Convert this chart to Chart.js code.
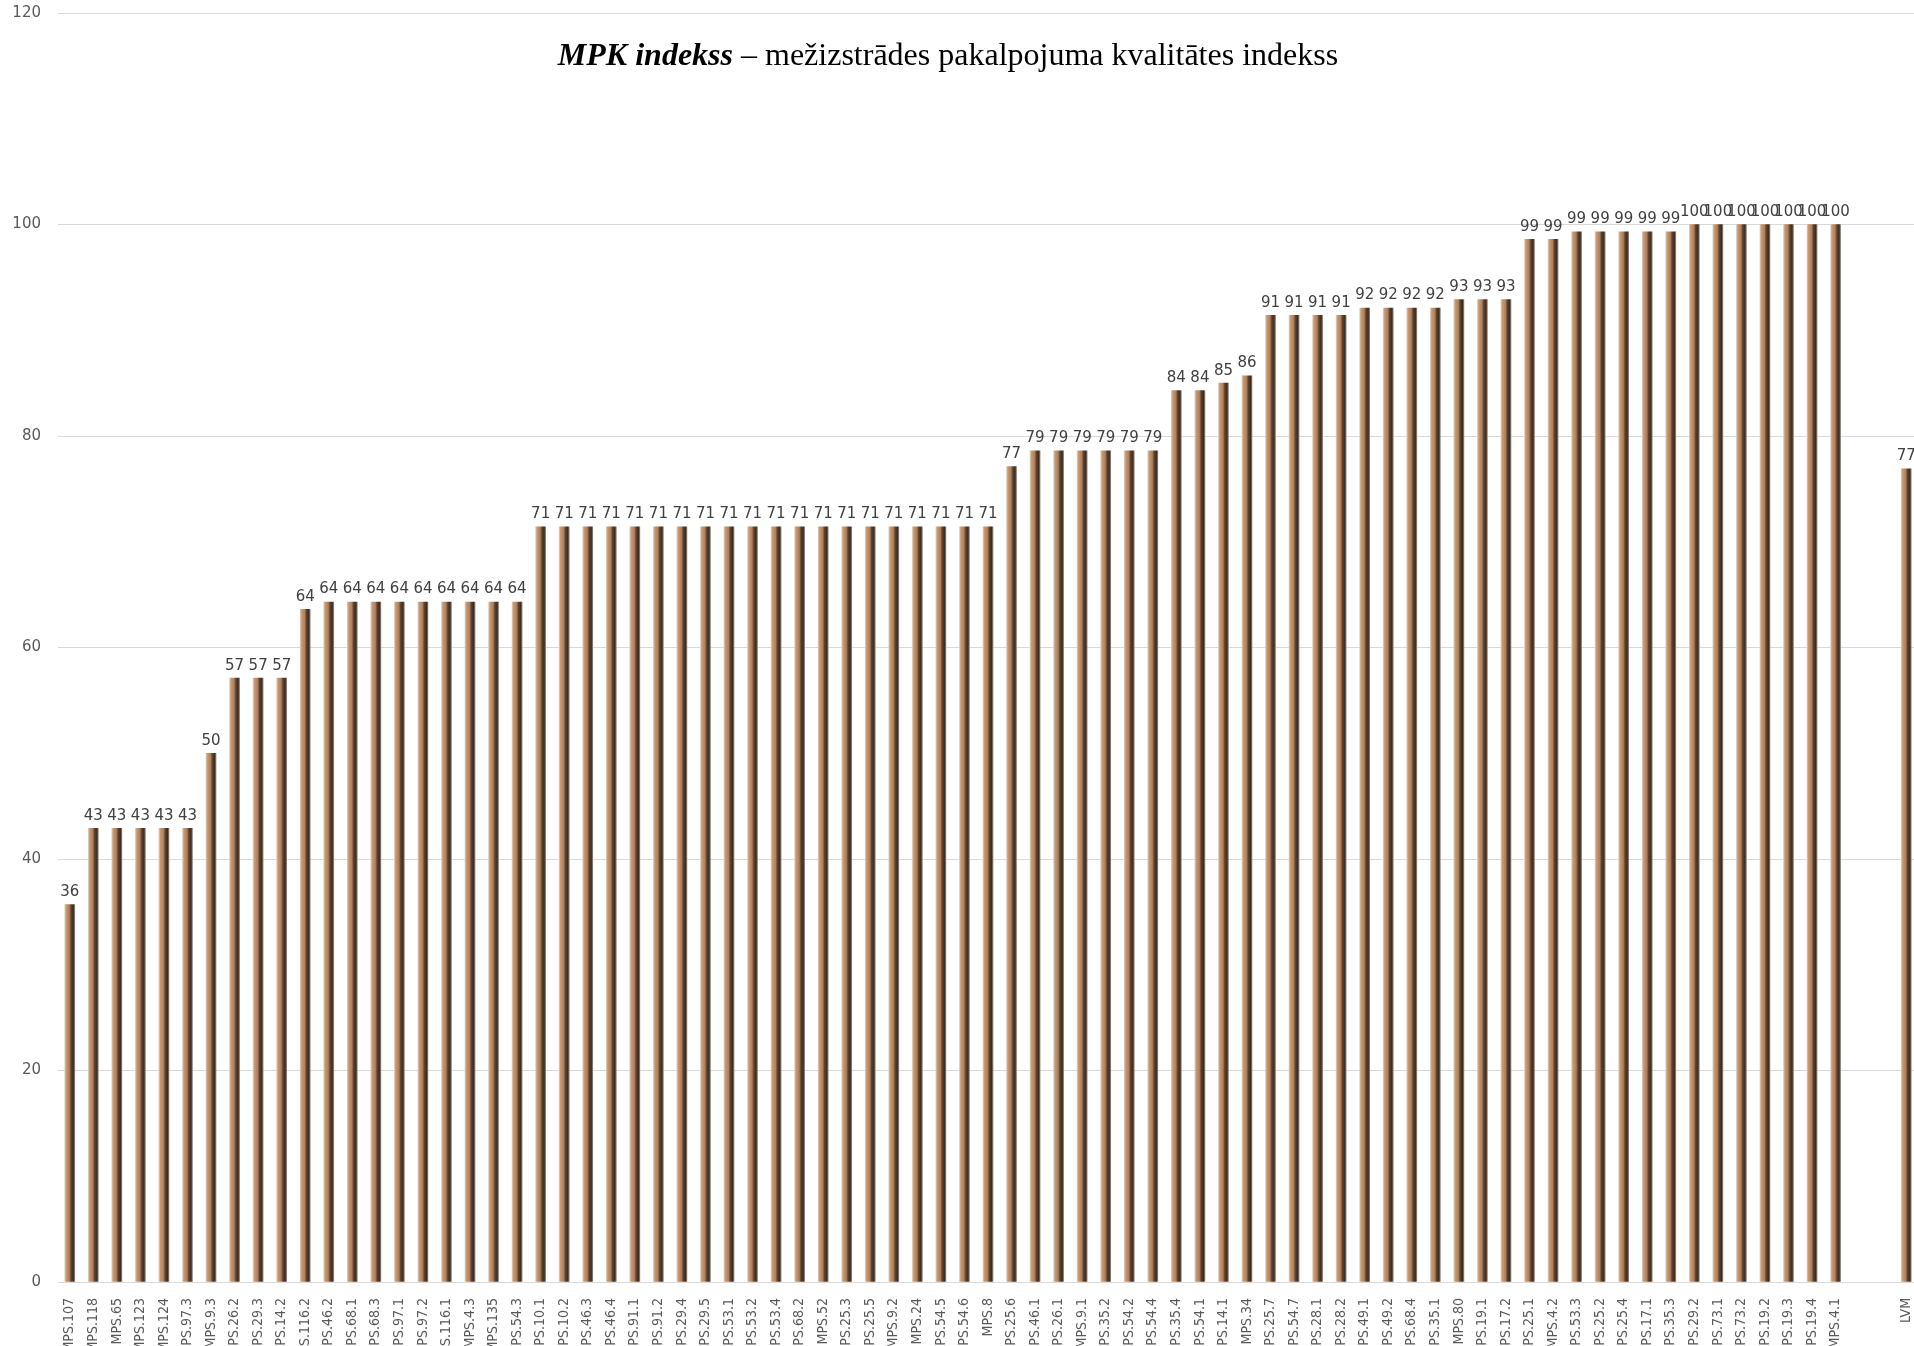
<!DOCTYPE html>
<html>
<head>
<meta charset="utf-8">
<script src="https://cdn.jsdelivr.net/npm/chart.js@4/dist/chart.umd.min.js"></script>
<style>
  html, body { margin: 0; padding: 0; background: #fff; overflow: hidden; }
  #wrap { position: relative; width: 1918px; height: 1346px; }
  #title {
    position: absolute; top: 36px; left: 948px; transform: translateX(-50%);
    font-family: "Liberation Serif", "DejaVu Serif", serif; font-size: 32px;
    color: #000; white-space: nowrap;
  }
  #title b { font-style: italic; }
</style>
</head>
<body>
<div id="wrap">
  <canvas id="MPK" width="1918" height="1346"></canvas>
  <div id="title"><b>MPK indekss</b> – mežizstrādes pakalpojuma kvalitātes indekss</div>
</div>
<script>
// categories (two empty slots before LVM)
var labels = [
  "MPS.107", "MPS.118", "MPS.65", "MPS.123", "MPS.124", "MPS.97.3", "MPS.9.3", "MPS.26.2", "MPS.29.3", "MPS.14.2",
  "MPS.116.2", "MPS.46.2", "MPS.68.1", "MPS.68.3", "MPS.97.1", "MPS.97.2", "MPS.116.1", "MPS.4.3", "MPS.135", "MPS.54.3",
  "MPS.10.1", "MPS.10.2", "MPS.46.3", "MPS.46.4", "MPS.91.1", "MPS.91.2", "MPS.29.4", "MPS.29.5", "MPS.53.1", "MPS.53.2",
  "MPS.53.4", "MPS.68.2", "MPS.52", "MPS.25.3", "MPS.25.5", "MPS.9.2", "MPS.24", "MPS.54.5", "MPS.54.6", "MPS.8",
  "MPS.25.6", "MPS.46.1", "MPS.26.1", "MPS.9.1", "MPS.35.2", "MPS.54.2", "MPS.54.4", "MPS.35.4", "MPS.54.1", "MPS.14.1",
  "MPS.34", "MPS.25.7", "MPS.54.7", "MPS.28.1", "MPS.28.2", "MPS.49.1", "MPS.49.2", "MPS.68.4", "MPS.35.1", "MPS.80",
  "MPS.19.1", "MPS.17.2", "MPS.25.1", "MPS.4.2", "MPS.53.3", "MPS.25.2", "MPS.25.4", "MPS.17.1", "MPS.35.3", "MPS.29.2",
  "MPS.73.1", "MPS.73.2", "MPS.19.2", "MPS.19.3", "MPS.19.4", "MPS.4.1", "", "", "LVM"
];

// index values
var values = [
  35.7, 42.9, 42.9, 42.9, 42.9, 42.9, 50, 57.1, 57.1, 57.1,
  63.6, 64.3, 64.3, 64.3, 64.3, 64.3, 64.3, 64.3, 64.3, 64.3,
  71.4, 71.4, 71.4, 71.4, 71.4, 71.4, 71.4, 71.4, 71.4, 71.4,
  71.4, 71.4, 71.4, 71.4, 71.4, 71.4, 71.4, 71.4, 71.4, 71.4,
  77.1, 78.6, 78.6, 78.6, 78.6, 78.6, 78.6, 84.3, 84.3, 85.0,
  85.7, 91.4, 91.4, 91.4, 91.4, 92.1, 92.1, 92.1, 92.1, 92.9,
  92.9, 92.9, 98.6, 98.6, 99.3, 99.3, 99.3, 99.3, 99.3, 100,
  100, 100, 100, 100, 100, 100, null, null, 76.9
];

var yTicks = [0, 20, 40, 60, 80, 100, 120];

var barWidth = 10;

// cylinder-like shading for each bar
function barFill(c) {
    var chart = c.chart;
    var xs = chart.scales.x;
    if (!xs || c.dataIndex == null || !chart.chartArea) return "#b07d57";
    var cx = xs.getPixelForValue(c.dataIndex);
    var g = chart.ctx.createLinearGradient(cx - barWidth / 2, 0, cx + barWidth / 2, 0);
    g.addColorStop(0, "#d6ccc2");
    g.addColorStop(0.14, "#c9996f");
    g.addColorStop(0.45, "#b27f58");
    g.addColorStop(0.62, "#5e4532");
    g.addColorStop(0.86, "#3b2b1f");
    g.addColorStop(1, "#8e857d");
    return g;
}

// value labels above bars
var valueLabels = {
    id: "valueLabels",
    afterDatasetsDraw: function(chart) {
        var ctx = chart.ctx;
        var meta = chart.getDatasetMeta(0);
        ctx.save();
        ctx.font = "15px 'DejaVu Sans', Verdana, sans-serif";
        ctx.fillStyle = "#404040";
        ctx.textAlign = "center";
        ctx.textBaseline = "bottom";
        for (var i = 0; i < meta.data.length; i++) {
            var v = values[i];
            if (v == null) continue;
            var el = meta.data[i];
            ctx.fillText(String(Math.round(v)), el.x, el.y - 5);
        }
        ctx.restore();
    }
};

var chartMPK = new Chart(document.getElementById("MPK"), {
    type: "bar",
    data: {
        labels: labels,
        datasets: [{
            data: values,
            backgroundColor: barFill,
            borderWidth: 0,
            barThickness: barWidth
        }]
    },
    options: {
        responsive: false,
        animation: false,
        layout: { padding: { top: 13, right: 0, bottom: 0, left: 0 } },
        plugins: {
            legend: { display: false },
            title: { display: false },
            tooltip: { enabled: false }
        },
        scales: {
            x: {
                grid: { display: false },
                border: { display: false },
                ticks: {
                    autoSkip: false,
                    minRotation: 90,
                    maxRotation: 90,
                    padding: 8,
                    color: "#595959",
                    font: { family: "'DejaVu Sans Condensed', 'Liberation Sans Narrow', 'Roboto', sans-serif", size: 14 }
                },
                afterFit: function(scale) {
                    scale.height = 64;
                    scale.paddingLeft = 0;
                    scale.paddingRight = 0;
                }
            },
            y: {
                min: 0,
                max: 120,
                afterBuildTicks: function(scale) {
                    scale.ticks = yTicks.map(function(v) { return { value: v }; });
                },
                grid: { color: "#d9d9d9", lineWidth: 1, drawTicks: false },
                border: { display: false },
                ticks: {
                    padding: 17,
                    color: "#595959",
                    font: { family: "'DejaVu Sans', Verdana, sans-serif", size: 15 }
                },
                afterFit: function(scale) {
                    scale.width = 58;
                    scale.paddingTop = 0;
                    scale.paddingBottom = 0;
                }
            }
        }
    },
    plugins: [valueLabels]
});
</script>
</body>
</html>
